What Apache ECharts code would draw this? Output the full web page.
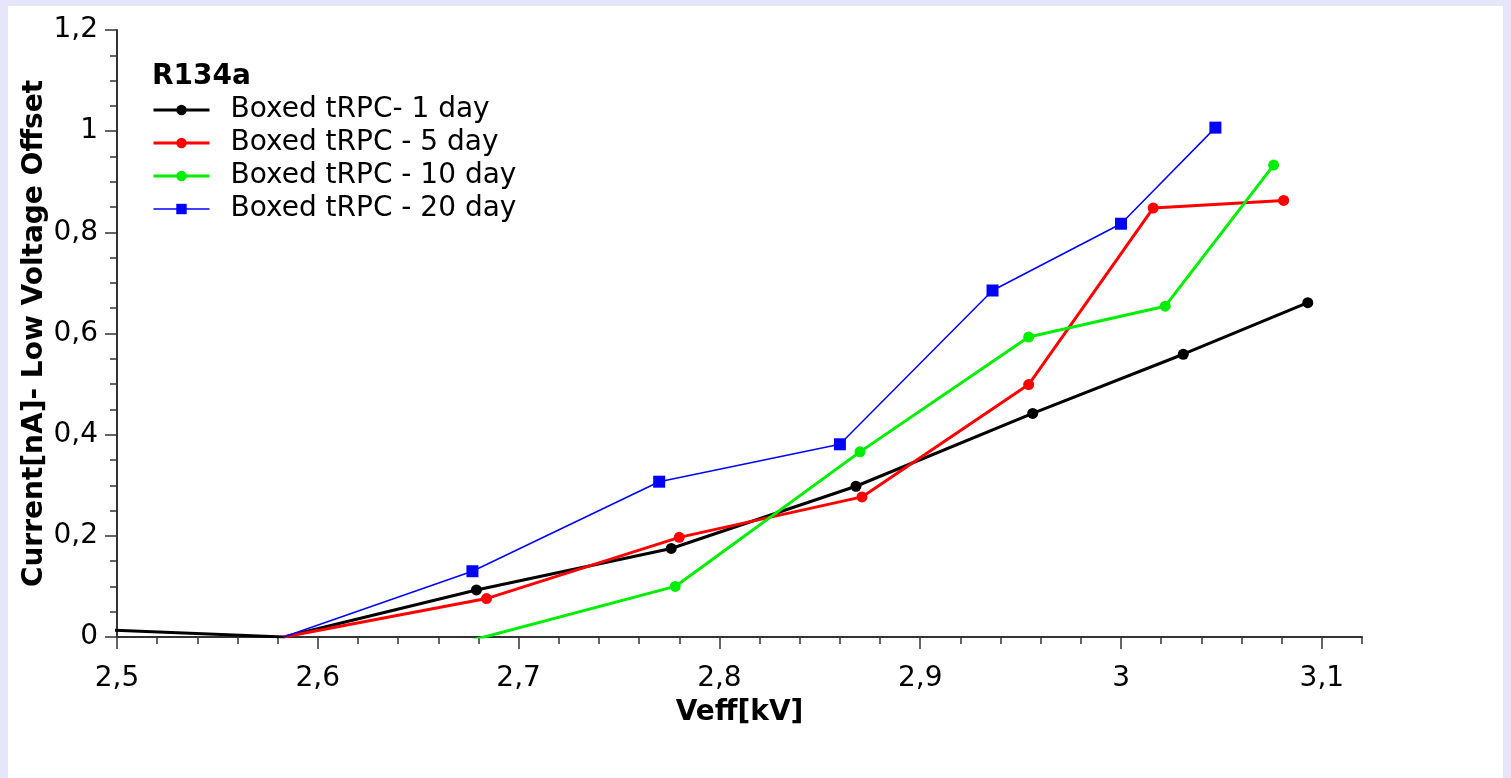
<!DOCTYPE html>
<html>
<head>
<meta charset="utf-8">
<script src="https://cdn.jsdelivr.net/npm/echarts@6/dist/echarts.min.js"></script>
<style>
  html, body { margin: 0; padding: 0; width: 1511px; height: 778px; overflow: hidden; background: #e6e6fa; }
  #chart { position: absolute; left: 8px; top: 6px; width: 1495px; height: 772px; background: #ffffff; }
</style>
</head>
<body>
<div id="chart"></div>
<script>
// Current above the low-voltage offset vs. effective voltage, R134a, boxed tRPC
const seriesNames = ['Boxed tRPC- 1 day', 'Boxed tRPC - 5 day', 'Boxed tRPC - 10 day', 'Boxed tRPC - 20 day'];

const day1Veff    = [2.45, 2.583, 2.679, 2.776, 2.868, 2.956, 3.031, 3.093];
const day1Current = [0.021, 0, 0.093, 0.175, 0.298, 0.442, 0.559, 0.661];

const day5Veff    = [2.583, 2.684, 2.780, 2.871, 2.954, 3.016, 3.081];
const day5Current = [0, 0.076, 0.197, 0.277, 0.499, 0.848, 0.863];

const day10Veff    = [2.583, 2.778, 2.870, 2.954, 3.022, 3.076];
const day10Current = [-0.105, 0.100, 0.366, 0.593, 0.654, 0.933];

const day20Veff    = [2.583, 2.677, 2.770, 2.860, 2.936, 3.000, 3.047];
const day20Current = [0, 0.130, 0.307, 0.381, 0.685, 0.817, 1.007];

const xTicks = [2.5, 2.6, 2.7, 2.8, 2.9, 3.0, 3.1];
const yTicks = [0, 0.2, 0.4, 0.6, 0.8, 1.0, 1.2];

const X_MIN = 2.5, X_MAX = 3.12;
const Y_MIN = 0, Y_MAX = 1.2;

// minor ticks every 0.02 kV between the labelled ones, plus the axis end
const xMinorTicks = [];
for (let k = 0; k < xTicks.length; k++) {
  for (let j = 1; j < 5; j++) {
    const v = +(xTicks[k] + j * 0.02).toFixed(3);
    if (v <= X_MAX) xMinorTicks.push(v);
  }
}
xMinorTicks.push(X_MAX);

const FONT = 'DejaVu Sans';
const FS = 28;
const AXIS_COLOR = '#333333';
const comma = v => String(+v.toFixed(2)).replace('.', ',');

const seriesColors = ['#000000', '#ff0000', '#00ee00', '#0000ff'];
const seriesWidths = [3, 3, 3, 1.5];

function lineSeries(idx, xs, ys, symbol, size) {
  const color = seriesColors[idx];
  return {
    type: 'line',
    name: seriesNames[idx],
    xAxisIndex: 0,
    yAxisIndex: 0,
    clip: true,
    symbol: symbol,
    symbolSize: size,
    showSymbol: true,
    data: xs.map((x, i) => ys[i] <= 0 ? { value: [x, ys[i]], symbol: 'none' } : [x, ys[i]]),
    lineStyle: { color: color, width: seriesWidths[idx] },
    itemStyle: { color: color },
    emphasis: { disabled: true }
  };
}

const chart = echarts.init(document.getElementById('chart'), null, { renderer: 'canvas' });

chart.setOption({
  animation: false,
  backgroundColor: '#ffffff',
  title: {
    text: 'R134a',
    left: 144,
    top: 57,
    padding: 0,
    textStyle: { fontFamily: FONT, fontSize: FS, fontWeight: 'bold', color: '#000' }
  },
  legend: {
    data: seriesNames.map((n, i) => ({ name: n, lineStyle: { width: seriesWidths[i], color: seriesColors[i] } })),
    orient: 'vertical',
    left: 144,
    top: 90,
    padding: 0,
    itemWidth: 56,
    itemHeight: 13,
    itemGap: 5,
    selectedMode: false,
    textStyle: { fontFamily: FONT, fontSize: FS, color: '#000', lineHeight: 28, padding: [0, 0, 0, 16] }
  },
  grid: [
    { left: 109, right: 141, top: 24, bottom: 141, containLabel: false },
    { left: 109, right: 141, top: 24, bottom: 141, containLabel: false }
  ],
  xAxis: [
    {
      type: 'value',
      gridIndex: 0,
      min: X_MIN,
      max: X_MAX,
      interval: 0.1,
      name: 'Veff[kV]',
      nameLocation: 'middle',
      nameGap: 62,
      nameMoveOverlap: false,
      nameTextStyle: { fontFamily: FONT, fontSize: FS, fontWeight: 'bold', color: '#000' },
      splitLine: { show: false },
      axisLine: { show: true, onZero: false, lineStyle: { color: AXIS_COLOR, width: 2 } },
      axisTick: { show: true, length: 12, customValues: xTicks, lineStyle: { color: AXIS_COLOR, width: 1.5 } },
      axisLabel: {
        customValues: xTicks,
        margin: 28,
        fontFamily: FONT, fontSize: FS, color: '#000',
        formatter: v => comma(v)
      }
    },
    {
      type: 'value',
      gridIndex: 1,
      min: X_MIN,
      max: X_MAX,
      axisLine: { show: false },
      splitLine: { show: false },
      axisLabel: { show: false },
      axisTick: { show: true, length: 7, customValues: xMinorTicks, lineStyle: { color: AXIS_COLOR, width: 1.5 } }
    }
  ],
  yAxis: [
    {
      type: 'value',
      gridIndex: 0,
      min: Y_MIN,
      max: Y_MAX,
      interval: 0.2,
      name: 'Current[nA]- Low Voltage Offset',
      nameLocation: 'middle',
      nameGap: 68,
      nameMoveOverlap: false,
      nameTextStyle: { fontFamily: FONT, fontSize: FS, fontWeight: 'bold', color: '#000' },
      splitLine: { show: false },
      axisLine: { show: true, onZero: false, lineStyle: { color: AXIS_COLOR, width: 2 } },
      axisTick: { show: true, length: 12, lineStyle: { color: AXIS_COLOR, width: 1.5 } },
      minorTick: { show: true, splitNumber: 4, length: 7, lineStyle: { color: AXIS_COLOR, width: 1.5 } },
      minorSplitLine: { show: false },
      axisLabel: {
        customValues: yTicks,
        margin: 19,
        fontFamily: FONT, fontSize: FS, color: '#000',
        formatter: v => comma(v)
      }
    },
    {
      type: 'value',
      gridIndex: 1,
      min: Y_MIN,
      max: Y_MAX,
      show: false
    }
  ],
  series: [
    lineSeries(0, day1Veff, day1Current, 'circle', 11),
    lineSeries(1, day5Veff, day5Current, 'circle', 11),
    lineSeries(2, day10Veff, day10Current, 'circle', 11),
    lineSeries(3, day20Veff, day20Current, 'rect', 12)
  ]
});
</script>
</body>
</html>
